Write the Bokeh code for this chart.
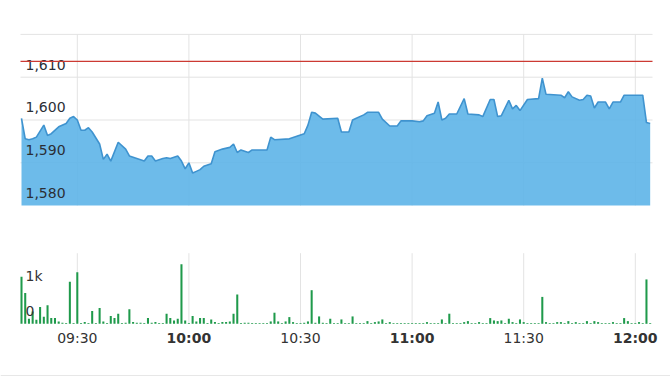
from bokeh.plotting import figure
from bokeh.models import Range1d, ColumnDataSource
from bokeh.core.properties import value
from bokeh.embed import file_html
from bokeh.resources import INLINE

# ---------------- data (minutes after 09:15) ----------------
price_min = [0, 1, 2, 3, 4, 6, 7, 8, 10, 12, 13, 14, 15, 16, 17, 18, 19, 21, 22, 23,
             24, 26, 28, 29, 31, 33, 34, 35, 36, 38, 39, 40, 42, 43, 44, 45, 46, 47, 48, 49,
             51, 52, 54, 56, 57, 58, 59, 61, 62, 66, 67, 68, 72, 74, 76, 77, 78, 79, 81, 85,
             86, 88, 89, 90, 92, 93, 96, 97, 99, 101, 102, 105, 107, 108, 109, 111, 112, 113, 114, 115,
             117, 119, 120, 123, 124, 126, 127, 128, 129, 131, 132, 133, 134, 136, 139, 140, 141, 145, 146, 147,
             148, 150, 151, 152, 153, 154, 155, 157, 158, 159, 161, 162, 167, 168, 169]
price_val = [1600.4, 1595.6, 1595.4, 1595.6, 1596.0, 1598.8, 1596.4, 1596.8, 1598.4, 1599.2,
             1600.4, 1600.8, 1600.0, 1597.6, 1597.6, 1598.2, 1597.2, 1594.4, 1590.8, 1592.0,
             1590.4, 1594.8, 1593.2, 1591.6, 1591.0, 1590.4, 1591.6, 1591.6, 1590.4, 1591.0,
             1591.2, 1591.0, 1591.6, 1590.4, 1588.6, 1590.0, 1587.6, 1588.0, 1588.4, 1589.2,
             1589.8, 1592.6, 1593.2, 1593.6, 1594.4, 1592.4, 1593.0, 1592.4, 1593.0, 1593.0,
             1596.0, 1595.4, 1595.6, 1596.2, 1596.8, 1598.8, 1601.8, 1601.6, 1600.2, 1600.4,
             1597.2, 1597.2, 1600.0, 1600.4, 1601.2, 1601.8, 1601.8, 1600.2, 1598.6, 1598.6,
             1599.8, 1599.8, 1599.6, 1599.8, 1601.0, 1601.6, 1604.2, 1600.0, 1600.4, 1601.4,
             1601.4, 1605.0, 1601.4, 1601.2, 1600.8, 1604.8, 1604.8, 1600.8, 1601.0, 1604.6,
             1602.6, 1603.4, 1602.2, 1604.8, 1605.0, 1609.8, 1606.0, 1605.8, 1605.2, 1606.6,
             1605.4, 1604.6, 1604.8, 1605.8, 1605.6, 1602.8, 1604.2, 1604.2, 1602.6, 1604.2,
             1604.2, 1605.8, 1605.8, 1599.4, 1599.2]

ref_price = 1613.7  # red reference line

volume = [1333, 876, 143, 350, 114, 476, 200, 523, 162, 162,
          67, 29, 20, 1190, 20, 1457, 20, 48, 20, 362,
          20, 447, 67, 20, 219, 162, 286, 20, 29, 409,
          48, 29, 29, 20, 162, 29, 48, 20, 20, 286,
          162, 95, 143, 1685, 95, 20, 219, 67, 162, 162,
          20, 124, 48, 20, 48, 48, 67, 286, 828, 20,
          29, 29, 20, 20, 20, 20, 20, 67, 314, 67,
          20, 67, 190, 48, 20, 20, 29, 67, 952, 29,
          209, 29, 20, 143, 20, 20, 124, 20, 20, 209,
          20, 20, 20, 76, 20, 48, 67, 124, 20, 48,
          20, 20, 20, 20, 20, 20, 20, 20, 20, 48,
          20, 20, 20, 124, 20, 286, 20, 20, 20, 48,
          76, 20, 20, 48, 20, 20, 162, 95, 76, 95,
          20, 143, 48, 20, 124, 48, 20, 20, 20, 20,
          762, 48, 20, 20, 48, 48, 20, 76, 20, 48,
          20, 20, 76, 20, 76, 48, 20, 20, 20, 48,
          20, 20, 162, 76, 20, 20, 48, 20, 1257, 20]
vol_min = list(range(len(volume)))

price_ticks = [1580, 1590, 1600, 1610]
price_labels = ["1,580", "1,590", "1,600", "1,610"]
price_grid = [1590, 1600, 1610, 1620]
vol_ticks = [0, 1000]
vol_labels = ["0", "1k"]
time_ticks = [15, 45, 75, 105, 135, 165]
time_labels = ["09:30", "10:00", "10:30", "11:00", "11:30", "12:00"]

# ---------------- geometry (pixels) ----------------
W, H = 670, 376
X0_PX, PX_PER_MIN = 21.0, 3.72          # screen x of minute 0, px per minute
P_REF, P_REF_PX, PX_PER_P = 1600, 119.5, 4.28
V_BASE_PX, PX_PER_V = 323.3, 0.0353
LEFT_PX, RIGHT_PX = 20, 652
P_BOTTOM, P_TOP = 1580, 1620
V_TOP = 2000

t_left = (LEFT_PX - X0_PX) / PX_PER_MIN
t_right = (RIGHT_PX - X0_PX) / PX_PER_MIN

p = figure(width=W, height=H, output_backend="svg", toolbar_location=None,
           x_range=Range1d(-X0_PX / PX_PER_MIN, (W - X0_PX) / PX_PER_MIN),
           y_range=Range1d(P_REF - (H - P_REF_PX) / PX_PER_P, P_REF + P_REF_PX / PX_PER_P),
           x_axis_type=None, y_axis_type=None, min_border=0,
           outline_line_color=None, background_fill_color="white",
           border_fill_color="white")
p.extra_y_ranges = {"vol": Range1d(-(H - V_BASE_PX) / PX_PER_V, V_BASE_PX / PX_PER_V)}
p.grid.visible = False

GRID = "#e3e3e3"
FONT = value("DejaVu Sans")

# gridlines - price panel
p.segment(x0=[t_left] * len(price_grid), x1=[t_right] * len(price_grid),
          y0=price_grid, y1=price_grid, line_color=GRID, line_width=1)
p.segment(x0=time_ticks, x1=time_ticks, y0=[P_BOTTOM] * len(time_ticks),
          y1=[P_TOP] * len(time_ticks), line_color=GRID, line_width=1)
# gridlines - volume panel
p.segment(x0=time_ticks, x1=time_ticks, y0=[0] * len(time_ticks),
          y1=[V_TOP] * len(time_ticks), line_color=GRID, line_width=1, y_range_name="vol")

# price area
src = ColumnDataSource(dict(t=price_min, v=price_val, b=[P_BOTTOM] * len(price_min)))
p.varea(x="t", y1="b", y2="v", source=src, fill_color="#5db4e8", fill_alpha=0.9)
p.line(x="t", y="v", source=src, line_color="#3f93cf", line_width=1.6)

# price labels
p.text(x=[t_left] * len(price_ticks), y=[v + 12.7 / PX_PER_P for v in price_ticks],
       text=price_labels, text_font=FONT, text_font_size="14px", text_color="#2b2f36",
       text_align="left", text_baseline="middle", x_offset=5)

# reference line
p.line(x=[t_left, t_right], y=[ref_price, ref_price], line_color="#cc3a33", line_width=1.2)

# volume bars
p.vbar(x=vol_min, top=volume, bottom=0, width=0.55, fill_color="#1f9a4b",
       line_color=None, y_range_name="vol")

# volume labels
p.text(x=[t_left] * len(vol_ticks), y=[v + 12.7 / PX_PER_V for v in vol_ticks],
       text=vol_labels, text_font=FONT, text_font_size="14px", text_color="#333333",
       text_align="left", text_baseline="middle", x_offset=5, y_range_name="vol")

# time labels
lab_y = (V_BASE_PX - 337) / PX_PER_V
for tt, lab in zip(time_ticks, time_labels):
    p.text(x=[tt], y=[lab_y], text=[lab], text_font=FONT, text_font_size="14px",
           text_color="#333333", text_align="center", text_baseline="middle",
           text_font_style="bold" if lab.endswith(":00") else "normal", y_range_name="vol")

# bottom border
bot = (V_BASE_PX - 375.5) / PX_PER_V
p.line(x=[p.x_range.start, p.x_range.end], y=[bot, bot], line_color="#cfcfcf",
       line_width=1, y_range_name="vol")

open("out.html", "w").write(file_html(p, INLINE))
